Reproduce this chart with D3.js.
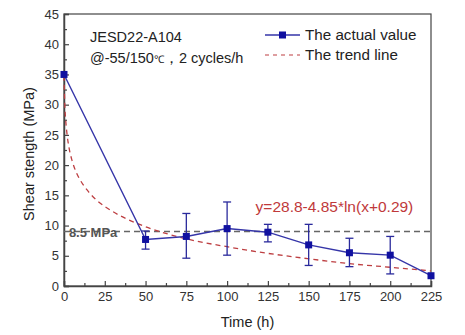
<!DOCTYPE html>
<html>
<head>
<meta charset="utf-8">
<script src="https://cdn.jsdelivr.net/npm/d3@7"></script>
<style>
  body { margin: 0; background: #fff; }
  text { font-family: Arial, "Liberation Sans", sans-serif; }
</style>
</head>
<body>
<div id="chart"></div>
<script>
var times = [0, 50, 75, 100, 125, 150, 175, 200, 225];
var strength = [35, 7.7, 8.2, 9.5, 8.9, 6.8, 5.5, 5.1, 1.7];
var errTop = [35, 9.1, 12.0, 13.9, 10.2, 10.2, 7.9, 8.2, 1.7];
var errBottom = [35, 6.1, 4.6, 5.1, 7.3, 3.4, 3.2, 2.0, 1.7];

// trend line read at a few times
var trendTimes = [0, 0.5, 1, 2, 3, 5, 7.5, 10, 15, 20, 30, 40, 50, 75, 100, 125, 150, 175, 200, 225];
var trendValues = [34.8, 29.9, 27.6, 24.8, 23.0, 20.7, 18.8, 17.5, 15.6, 14.2, 12.3, 10.9, 9.8, 7.8, 6.5, 5.4, 4.5, 3.7, 3.1, 2.5];

var refLevel = 9.0;
var xTicks = [0, 25, 50, 75, 100, 125, 150, 175, 200, 225];
var yTicks = [0, 5, 10, 15, 20, 25, 30, 35, 40, 45];

var w = 465, h = 335;
var margin = {left: 64, right: 34, top: 14, bottom: 49};

var svg = d3.select("#chart").append("svg")
    .attr("width", w)
    .attr("height", h);

var x = d3.scaleLinear().domain([0, 225]).range([margin.left, w - margin.right]);
var y = d3.scaleLinear().domain([0, 45]).range([h - margin.bottom, margin.top]);

var axisColor = "#333";

// frame
svg.append("rect")
    .attr("x", x(0)).attr("y", y(45))
    .attr("width", x(225) - x(0)).attr("height", y(0) - y(45))
    .attr("fill", "none").attr("stroke", "#444").attr("stroke-width", 1.2);

// x axis - ticks point inward
svg.append("g")
    .attr("transform", "translate(0," + y(0) + ")")
    .call(d3.axisBottom(x).tickValues(xTicks).tickSize(-5).tickPadding(6));
svg.append("g")
    .attr("transform", "translate(0," + y(0) + ")")
    .call(d3.axisBottom(x).tickValues(d3.range(12.5, 225, 25)).tickSize(-3).tickFormat(""))
    .select(".domain").remove();

svg.append("g")
    .attr("transform", "translate(" + x(0) + ",0)")
    .call(d3.axisLeft(y).tickValues(yTicks).tickSize(-5).tickPadding(5));
svg.append("g")
    .attr("transform", "translate(" + x(0) + ",0)")
    .call(d3.axisLeft(y).tickValues(d3.range(2.5, 45, 5)).tickSize(-3).tickFormat(""))
    .select(".domain").remove();

svg.selectAll(".domain").attr("stroke", "#444").attr("stroke-width", 1.5);
svg.selectAll(".tick line").attr("stroke", "#444").attr("stroke-width", 1.2);
svg.selectAll(".tick text")
    .attr("fill", axisColor)
    .style("font-size", "13px")
    .style("font-family", "Arial, 'Liberation Sans', sans-serif");

// axis titles
svg.append("text")
    .attr("x", (x(0) + x(225)) / 2).attr("y", 327)
    .attr("text-anchor", "middle")
    .attr("fill", "#222")
    .style("font-size", "14.5px")
    .text("Time (h)");

svg.append("text")
    .attr("transform", "translate(34," + (y(22.5) + 4) + ") rotate(-90)")
    .attr("text-anchor", "middle")
    .attr("fill", "#222")
    .style("font-size", "14.5px")
    .text("Shear stength (MPa)");

// reference level
svg.append("line")
    .attr("x1", x(0)).attr("x2", x(225))
    .attr("y1", y(refLevel)).attr("y2", y(refLevel))
    .attr("stroke", "#666").attr("stroke-width", 1.5)
    .attr("stroke-dasharray", "6,4");

svg.append("text")
    .attr("x", x(3)).attr("y", y(refLevel) + 5)
    .attr("fill", "#555")
    .style("font-size", "13px")
    .style("font-weight", "bold")
    .text("8.5 MPa");

// trend
var trendData = trendTimes.map(function (t, i) { return {t: t, v: trendValues[i]}; });
var trendLine = d3.line()
    .x(function (d) { return x(d.t); })
    .y(function (d) { return y(d.v); })
    .curve(d3.curveMonotoneX);

svg.append("path")
    .datum(trendData)
    .attr("d", trendLine)
    .attr("fill", "none")
    .attr("stroke", "#bd3f42")
    .attr("stroke-width", 1.3)
    .attr("stroke-dasharray", "5,4");

// actual values
var data = times.map(function (t, i) {
    return {t: t, v: strength[i], hi: errTop[i], lo: errBottom[i]};
});

var valueLine = d3.line()
    .x(function (d) { return x(d.t); })
    .y(function (d) { return y(d.v); });

svg.append("path")
    .datum(data)
    .attr("d", valueLine)
    .attr("fill", "none")
    .attr("stroke", "#3535a8")
    .attr("stroke-width", 1.4);

var bars = svg.append("g").selectAll("g")
    .data(data.filter(function (d) { return d.hi > d.lo; }))
    .enter().append("g")
    .attr("stroke", "#2a2a9c").attr("stroke-width", 1.3);
bars.append("line")
    .attr("x1", function (d) { return x(d.t); }).attr("x2", function (d) { return x(d.t); })
    .attr("y1", function (d) { return y(d.hi); }).attr("y2", function (d) { return y(d.lo); });
bars.append("line")
    .attr("x1", function (d) { return x(d.t) - 4; }).attr("x2", function (d) { return x(d.t) + 4; })
    .attr("y1", function (d) { return y(d.hi); }).attr("y2", function (d) { return y(d.hi); });
bars.append("line")
    .attr("x1", function (d) { return x(d.t) - 4; }).attr("x2", function (d) { return x(d.t) + 4; })
    .attr("y1", function (d) { return y(d.lo); }).attr("y2", function (d) { return y(d.lo); });

var ms = 7;
svg.append("g").selectAll("rect")
    .data(data)
    .enter().append("rect")
    .attr("x", function (d) { return x(d.t) - ms / 2; })
    .attr("y", function (d) { return y(d.v) - ms / 2; })
    .attr("width", ms).attr("height", ms)
    .attr("fill", "#1010a0");

// annotations
svg.append("text")
    .attr("x", 90).attr("y", 42)
    .attr("fill", "#222")
    .style("font-size", "14.5px")
    .text("JESD22-A104");

var cond = svg.append("text")
    .attr("x", 90).attr("y", 63)
    .attr("fill", "#222")
    .style("font-size", "14.5px");
cond.append("tspan").text("@-55/150");
cond.append("tspan").style("font-size", "10.5px").text("℃");
cond.append("tspan").text("，2 cycles/h");

svg.append("text")
    .attr("x", x(165.8)).attr("y", 212)
    .attr("text-anchor", "middle")
    .attr("fill", "#c0393b")
    .style("font-size", "15.5px")
    .text("y=28.8-4.85*ln(x+0.29)");

// legend
var lg = svg.append("g");
lg.append("line")
    .attr("x1", 265).attr("x2", 300).attr("y1", 35).attr("y2", 35)
    .attr("stroke", "#3535a8").attr("stroke-width", 1.4);
lg.append("rect")
    .attr("x", 282.5 - ms / 2).attr("y", 35 - ms / 2)
    .attr("width", ms).attr("height", ms).attr("fill", "#1010a0");
lg.append("text")
    .attr("x", 305).attr("y", 40)
    .attr("fill", "#222").style("font-size", "15.2px")
    .text("The actual value");
lg.append("line")
    .attr("x1", 265).attr("x2", 300).attr("y1", 55).attr("y2", 55)
    .attr("stroke", "#bd3f42").attr("stroke-width", 1.2)
    .attr("stroke-dasharray", "4,4");
lg.append("text")
    .attr("x", 305).attr("y", 60)
    .attr("fill", "#222").style("font-size", "15.2px")
    .text("The trend line");
</script>
</body>
</html>
